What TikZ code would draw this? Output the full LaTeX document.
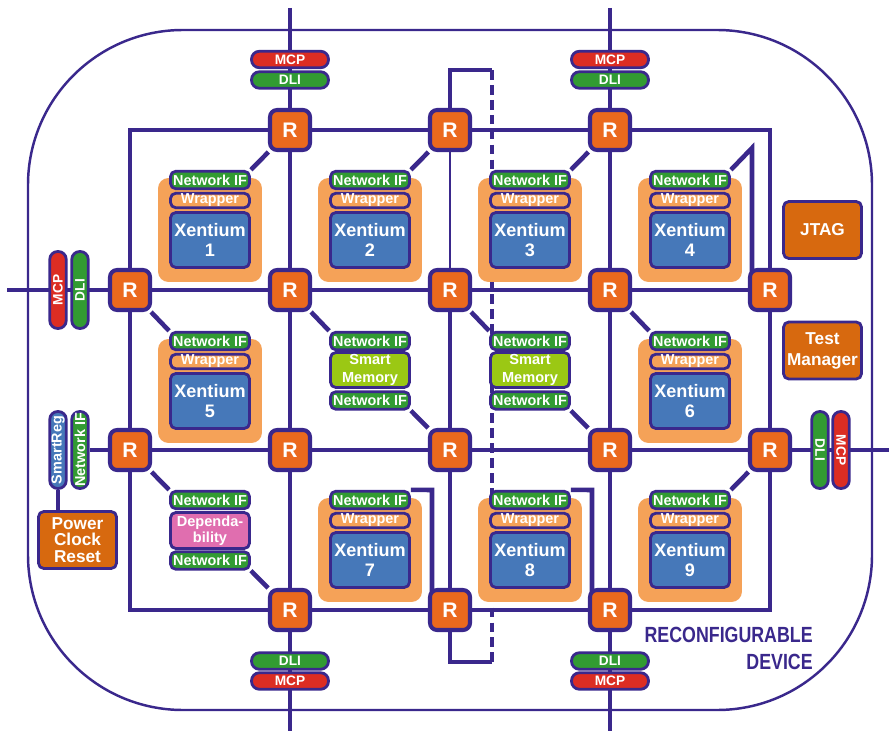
\documentclass[tikz,border=0pt]{standalone}
\usepackage{fontspec}
\setmainfont{Liberation Sans}
\usepackage{graphicx}
\usetikzlibrary{backgrounds}

\definecolor{navy}{RGB}{58,40,140}
\definecolor{rorange}{RGB}{235,105,30}
\definecolor{nifgreen}{RGB}{50,155,50}
\definecolor{wrapor}{RGB}{245,162,88}
\definecolor{xblue}{RGB}{70,120,185}
\definecolor{smgreen}{RGB}{155,200,20}
\definecolor{deppink}{RGB}{224,110,175}
\definecolor{mcpred}{RGB}{220,45,35}
\definecolor{ctlorange}{RGB}{215,105,15}

\begin{document}
\begin{tikzpicture}[x=0.02cm, y=-0.02cm,
  wire/.style={navy, line width=2.6pt},
  router/.style={draw=navy, line width=2.3pt, fill=rorange, rounded corners=4pt,
    minimum size=0.8cm, inner sep=0, text=white, font=\bfseries\fontsize{12}{14}\selectfont},
  box/.style={draw=navy, line width=1.6pt, rounded corners=3pt, inner sep=0, text=white,
    align=center, minimum width=1.58cm, font=\bfseries\fontsize{8.2}{9.5}\selectfont},
  nif/.style={box, fill=nifgreen, minimum height=0.35cm},
  wrap/.style={box, fill=wrapor, minimum height=0.29cm},
  xen/.style={box, fill=xblue, minimum height=1.1cm, font=\bfseries\fontsize{10.3}{11.3}\selectfont},
  back/.style={fill=wrapor, rounded corners=6pt, minimum size=2.08cm, inner sep=0},
  smem/.style={box, fill=smgreen, minimum height=0.7cm, font=\bfseries\fontsize{8.3}{10}\selectfont},
  dep/.style={box, fill=deppink, minimum height=0.72cm, font=\bfseries\fontsize{8.3}{9.4}\selectfont},
  pill/.style={box, minimum width=1.54cm, minimum height=0.33cm, rounded corners=4.5pt,
    font=\bfseries\fontsize{7.8}{9}\selectfont},
  ctl/.style={box, fill=ctlorange, minimum width=1.56cm, minimum height=1.14cm,
    font=\bfseries\fontsize{9.8}{11.9}\selectfont}]
  \useasboundingbox (0,0) rectangle (889,733);

  \node[router] (r21) at (290,130) {R};
  \node[router] (r31) at (450,130) {R};
  \node[router] (r41) at (610,130) {R};
  \node[router] (r12) at (130,290) {R};
  \node[router] (r22) at (290,290) {R};
  \node[router] (r32) at (450,290) {R};
  \node[router] (r42) at (610,290) {R};
  \node[router] (r52) at (770,290) {R};
  \node[router] (r13) at (130,450) {R};
  \node[router] (r23) at (290,450) {R};
  \node[router] (r33) at (450,450) {R};
  \node[router] (r43) at (610,450) {R};
  \node[router] (r53) at (770,450) {R};
  \node[router] (r24) at (290,610) {R};
  \node[router] (r34) at (450,610) {R};
  \node[router] (r44) at (610,610) {R};

  \node[back] (bg1) at (210,230) {};
  \node[nif]  (nif1) at (210,180)   {Network IF};
  \node[wrap] (wr1)  at (210,200.5) {Wrapper};
  \node[xen]  (x1)   at (210,240)   {Xentium\\1};
  \node[back] (bg2) at (370,230) {};
  \node[nif]  (nif2) at (370,180)   {Network IF};
  \node[wrap] (wr2)  at (370,200.5) {Wrapper};
  \node[xen]  (x2)   at (370,240)   {Xentium\\2};
  \node[back] (bg3) at (530,230) {};
  \node[nif]  (nif3) at (530,180)   {Network IF};
  \node[wrap] (wr3)  at (530,200.5) {Wrapper};
  \node[xen]  (x3)   at (530,240)   {Xentium\\3};
  \node[back] (bg4) at (690,230) {};
  \node[nif]  (nif4) at (690,180)   {Network IF};
  \node[wrap] (wr4)  at (690,200.5) {Wrapper};
  \node[xen]  (x4)   at (690,240)   {Xentium\\4};

  \node[back] (bg5) at (210,391) {};
  \node[nif]  (nif5) at (210,341)   {Network IF};
  \node[wrap] (wr5)  at (210,361.5) {Wrapper};
  \node[xen]  (x5)   at (210,401)   {Xentium\\5};
  \node[nif]  (nifa) at (370,341)   {Network IF};
  \node[smem] (sm1)  at (370,370)   {Smart\\Memory};
  \node[nif]  (nifb) at (370,400.5) {Network IF};
  \node[nif]  (nifc) at (530,341)   {Network IF};
  \node[smem] (sm2)  at (530,370)   {Smart\\Memory};
  \node[nif]  (nifd) at (530,400.5) {Network IF};
  \node[back] (bg6) at (690,391) {};
  \node[nif]  (nif6) at (690,341)   {Network IF};
  \node[wrap] (wr6)  at (690,361.5) {Wrapper};
  \node[xen]  (x6)   at (690,401)   {Xentium\\6};

  \node[nif]  (nife) at (210,500)   {Network IF};
  \node[dep]  (dp)   at (210,530.5) {Dependa-\\bility};
  \node[nif]  (niff) at (210,560.5) {Network IF};
  \node[back] (bg7) at (370,550) {};
  \node[nif]  (nif7) at (370,500)   {Network IF};
  \node[wrap] (wr7)  at (370,520.5) {Wrapper};
  \node[xen]  (x7)   at (370,560)   {Xentium\\7};
  \node[back] (bg8) at (530,550) {};
  \node[nif]  (nif8) at (530,500)   {Network IF};
  \node[wrap] (wr8)  at (530,520.5) {Wrapper};
  \node[xen]  (x8)   at (530,560)   {Xentium\\8};
  \node[back] (bg9) at (690,550) {};
  \node[nif]  (nif9) at (690,500)   {Network IF};
  \node[wrap] (wr9)  at (690,520.5) {Wrapper};
  \node[xen]  (x9)   at (690,560)   {Xentium\\9};

  \node[pill, fill=mcpred]   (mcpt2) at (290,59.5) {MCP};
  \node[pill, fill=nifgreen] (dlit2) at (290,80)   {DLI};
  \node[pill, fill=mcpred]   (mcpt4) at (610,59.5) {MCP};
  \node[pill, fill=nifgreen] (dlit4) at (610,80)   {DLI};
  \node[pill, fill=nifgreen] (dlib2) at (290,661)  {DLI};
  \node[pill, fill=mcpred]   (mcpb2) at (290,681)  {MCP};
  \node[pill, fill=nifgreen] (dlib4) at (610,661)  {DLI};
  \node[pill, fill=mcpred]   (mcpb4) at (610,681)  {MCP};
  \node[pill, fill=mcpred, rotate=90]    (mcpl) at (58,290)  {MCP};
  \node[pill, fill=nifgreen, rotate=90]  (dlil) at (80,290)  {DLI};
  \node[pill, fill=nifgreen, rotate=-90] (dlir) at (820,450) {DLI};
  \node[pill, fill=mcpred, rotate=-90]   (mcpr) at (841,450) {MCP};
  \node[pill, fill=xblue, rotate=90, font=\bfseries\fontsize{8.2}{9}\selectfont]    (sreg) at (58,450) {SmartReg};
  \node[pill, fill=nifgreen, rotate=90, font=\bfseries\fontsize{8.2}{9}\selectfont] (nifl) at (80,450) {Network IF};

  \node[ctl] (jtag) at (822.5,230)   {JTAG};
  \node[ctl] (tm)   at (822.5,350.5) {Test\\Manager};
  \node[ctl, font=\bfseries\fontsize{9.8}{9.4}\selectfont] (pcr) at (77.5,540) {Power\\Clock\\Reset};

  \node[anchor=east, inner sep=0, text=navy, font=\bfseries\fontsize{12.5}{15}\selectfont] (rc1) at (813,635) {\scalebox{0.81}[1]{RECONFIGURABLE}};
  \node[anchor=east, inner sep=0, text=navy, font=\bfseries\fontsize{12.5}{15}\selectfont] (rc2) at (813,661.5) {\scalebox{0.81}[1]{DEVICE}};

  \coordinate (c11) at (130,130);
  \coordinate (c51) at (770,130);
  \coordinate (c14) at (130,610);
  \coordinate (c54) at (770,610);
  \coordinate (t2) at (290,8);
  \coordinate (t4) at (610,8);
  \coordinate (b2) at (290,731);
  \coordinate (b4) at (610,731);
  \coordinate (lft) at (7,290);
  \coordinate (rgt) at (889,450);
  \coordinate (k4) at (752,148);
  \coordinate (k7) at (432,490);
  \coordinate (k8) at (592,490);
  \coordinate (d1) at (450,70);
  \coordinate (d2) at (492,70);
  \coordinate (d3) at (492,662);
  \coordinate (d4) at (450,662);

  \begin{scope}[on background layer]
    \draw[navy, line width=1.4pt, rounded corners=3.1cm] (28,30) rectangle (872,710);
    \draw[wire] (r21) -- (r31) -- (r41) -- (c51) -- (r52) -- (r53) -- (c54) -- (r44) -- (r34)
      -- (r24) -- (c14) -- (r13) -- (r12) -- (c11) -- (r21);
    \draw[wire] (r12) -- (r22) -- (r32) -- (r42) -- (r52);
    \draw[wire] (r13) -- (r23) -- (r33) -- (r43) -- (r53);
    \draw[wire] (r21) -- (r22) -- (r23) -- (r24);
    \draw[wire] (r32) -- (r33) -- (r34);
    \draw[wire] (r41) -- (r42) -- (r43) -- (r44);
    \draw[navy, line width=0.9pt] (r31) -- (r32);
    \draw[wire] (t2) -- (r21);
    \draw[wire] (t4) -- (r41);
    \draw[wire] (r24) -- (b2);
    \draw[wire] (r44) -- (b4);
    \draw[wire] (lft) -- (r12);
    \draw[wire] (r53) -- (rgt);
    \draw[wire] (nifl) -- (r13);
    \draw[wire] (sreg.west) -- (sreg.west |- pcr.north);
    \draw[wire] (r21) -- (nif1.north east);
    \draw[wire] (r31) -- (nif2.north east);
    \draw[wire] (r41) -- (nif3.north east);
    \draw[wire] (nif4.north east) -- (k4) -- (k4 |- r52);
    \draw[wire] (r12) -- (nif5.north west);
    \draw[wire] (r22) -- (nifa.north west);
    \draw[wire] (r32) -- (nifc.north west);
    \draw[wire] (r42) -- (nif6.north west);
    \draw[wire] (nifb.south east) -- (r33);
    \draw[wire] (nifd.south east) -- (r43);
    \draw[wire] (r53) -- (nif9.north east);
    \draw[wire] (r13) -- (nife.north west);
    \draw[wire] (niff.south east) -- (r24);
    \draw[wire] (nif7.north east) -- (k7) -- (k7 |- r34);
    \draw[wire] (nif8.north east) -- (k8) -- (k8 |- r44);
    \draw[wire] (r31) -- (d1) -- (d2);
    \draw[wire, dash pattern=on 5.5pt off 3pt] (d2) -- (d3);
    \draw[wire] (d3) -- (d4) -- (r34);
  \end{scope}
\end{tikzpicture}
\end{document}
